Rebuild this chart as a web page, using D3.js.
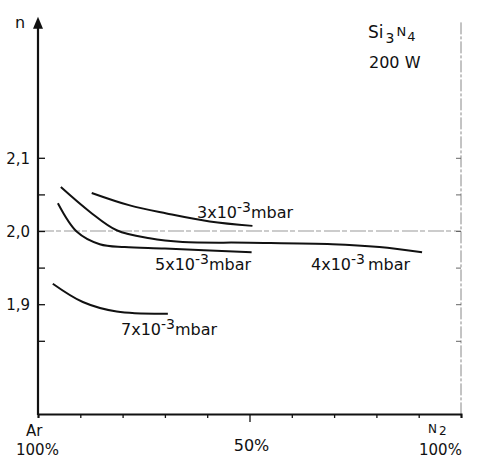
<!DOCTYPE html>
<html>
<head>
<meta charset="utf-8">
<script src="https://cdn.jsdelivr.net/npm/d3@7"></script>
<style>
  html, body { margin: 0; padding: 0; background: #fff; }
  svg { display: block; }
  text { font-family: "DejaVu Sans", "Liberation Sans", sans-serif; fill: #111; }
</style>
</head>
<body>
<svg id="chart" width="494" height="459"></svg>
<script>
// N2 share of the Ar/N2 gas mixture (%) and refractive index n of sputtered Si3N4 at 200 W
const p3 = [12.7, 21.7, 30.4, 40.6, 50.7];
const n3 = [2.052, 2.035, 2.024, 2.013, 2.007];

const p4 = [5.4, 12.3, 18.6, 26.4, 34.2, 50, 69.6, 80.7, 90.8];
const n4 = [2.060, 2.026, 2.001, 1.990, 1.985, 1.984, 1.982, 1.978, 1.971];

const p5 = [4.7, 9.2, 14.6, 20.5, 30, 50.5];
const n5 = [2.038, 1.999, 1.982, 1.978, 1.976, 1.971];

const p7 = [3.5, 10.6, 18.6, 30.7];
const n7 = [1.928, 1.903, 1.890, 1.887];

const yTickValues = [1.85, 1.9, 1.95, 2.0, 2.05, 2.1];
const yTickLabels = { 1.9: "1,9", 2.0: "2,0", 2.1: "2,1" };
const xTickValues = [0, 10, 20, 30, 40, 50, 60, 70, 80, 90, 100];

const svg = d3.select("#chart");

const x = d3.scaleLinear().domain([0, 100]).range([38, 461]);
const y = d3.scaleLinear().domain([1.75, 2.0]).range([414, 231]);
const yTop = 2.29;

// horizontal reference at n = 2,0
svg.append("line")
  .attr("x1", x(0)).attr("x2", x(100))
  .attr("y1", y(2.0)).attr("y2", y(2.0))
  .attr("stroke", "#999").attr("stroke-width", 1.2)
  .attr("stroke-dasharray", "16,2,5,3");

// right-hand frame line with inward ticks
svg.append("line")
  .attr("x1", x(100)).attr("x2", x(100))
  .attr("y1", y(2.285)).attr("y2", y(1.75))
  .attr("stroke", "#888").attr("stroke-width", 1)
  .attr("stroke-dasharray", "12,2,3,2");
svg.append("g")
  .attr("transform", `translate(${x(100)},0)`)
  .call(d3.axisRight(y).tickValues(yTickValues).tickSize(-5).tickFormat(""))
  .call(g => g.select(".domain").remove())
  .call(g => g.selectAll(".tick line").attr("stroke", "#666"));

// bottom axis
const xAxis = svg.append("g")
  .attr("transform", `translate(0,${y(1.75)})`)
  .call(d3.axisBottom(x).tickValues(xTickValues).tickSize(4).tickFormat(""));
xAxis.select(".domain").attr("stroke", "#111").attr("stroke-width", 2);
xAxis.selectAll(".tick line").attr("stroke", "#111").attr("stroke-width", 1.3)
  .attr("y2", d => d === 50 ? 8 : 4);

// left axis with arrow head
const yAxis = svg.append("g")
  .attr("transform", `translate(${x(0)},0)`)
  .call(d3.axisRight(y).tickValues(yTickValues).tickSize(7).tickFormat(""));
yAxis.select(".domain").remove();
yAxis.selectAll(".tick line").attr("stroke", "#111").attr("stroke-width", 1.3);
svg.append("line")
  .attr("x1", x(0)).attr("x2", x(0))
  .attr("y1", y(1.75) + 1).attr("y2", y(yTop) + 6)
  .attr("stroke", "#111").attr("stroke-width", 2.2);
const ax = x(0), ay = y(yTop);
svg.append("path")
  .attr("d", `M${ax},${ay - 2} L${ax - 5},${ay + 10} L${ax + 5},${ay + 10} Z`)
  .attr("fill", "#111");

// y tick labels
Object.keys(yTickLabels).forEach(k => {
  svg.append("text")
    .attr("x", 30).attr("y", y(+k) + 6)
    .attr("text-anchor", "end")
    .attr("font-size", 15)
    .text(yTickLabels[k]);
});
svg.append("text").attr("x", 15).attr("y", 28).attr("font-size", 16).text("n");

// curves
const line = d3.line().x(d => x(d[0])).y(d => y(d[1])).curve(d3.curveCatmullRom.alpha(0.5));
[[p3, n3], [p4, n4], [p5, n5], [p7, n7]].forEach(([ps, ns]) => {
  svg.append("path")
    .datum(ps.map((p, i) => [p, ns[i]]))
    .attr("d", line)
    .attr("fill", "none")
    .attr("stroke", "#111")
    .attr("stroke-width", 2);
});

// curve labels: pressure
function pressureLabel(px, py, mant, gap) {
  const t = svg.append("text").attr("x", px).attr("y", py).attr("font-size", 16);
  t.append("tspan").text(mant + "x10");
  t.append("tspan").attr("dy", -6).attr("font-size", 14).text("-3");
  t.append("tspan").attr("dy", 6).attr("dx", gap).text("mbar");
}
pressureLabel(197, 218, "3", 0);
pressureLabel(155, 270, "5", 0);
pressureLabel(311, 270, "4", 3);
pressureLabel(121, 335, "7", 0);

// material / power annotation
const s = svg.append("text").attr("x", 368).attr("y", 38).attr("font-size", 17);
s.append("tspan").text("Si");
s.append("tspan").attr("dy", 5).attr("dx", 2).attr("font-size", 14).text("3");
s.append("tspan").attr("dy", -7).attr("dx", 2).attr("font-size", 13).text("N");
s.append("tspan").attr("dy", 5).attr("dx", 1).attr("font-size", 13).text("4");
svg.append("text").attr("x", 369).attr("y", 68).attr("font-size", 16).text("200 W");

// x axis end labels
svg.append("text").attr("x", 26).attr("y", 436).attr("font-size", 15).text("Ar");
svg.append("text").attr("x", 16).attr("y", 455).attr("font-size", 15).text("100%");
svg.append("text").attr("x", x(50) + 2).attr("y", 451).attr("text-anchor", "middle")
  .attr("font-size", 16).text("50%");
const n2 = svg.append("text").attr("x", 428).attr("y", 433).attr("font-size", 12);
n2.append("tspan").text("N");
n2.append("tspan").attr("dy", 2).attr("dx", 2).attr("font-size", 12).text("2");
svg.append("text").attr("x", 419).attr("y", 455).attr("font-size", 15).text("100%");
</script>
</body>
</html>
